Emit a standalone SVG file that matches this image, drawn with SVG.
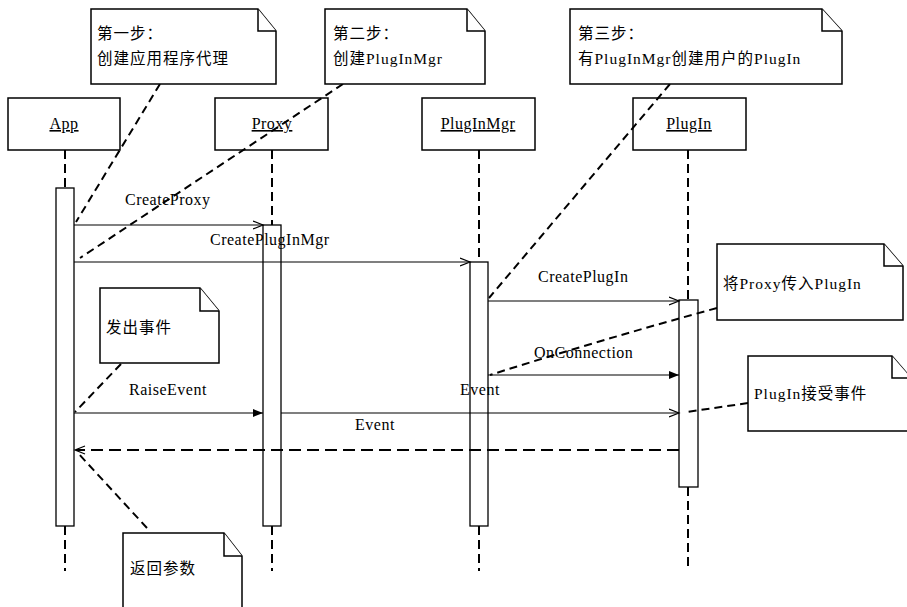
<svg xmlns="http://www.w3.org/2000/svg" width="907" height="607" viewBox="0 0 907 607">
<style>
.box{fill:#fff;stroke:#000;stroke-width:1.5}
.act{fill:#fff;stroke:#000;stroke-width:1.3}
.life{stroke:#000;stroke-width:2;stroke-dasharray:9,5;fill:none}
.link{stroke:#000;stroke-width:2;stroke-dasharray:8,5;fill:none}
.msg{stroke:#000;stroke-width:1.2;fill:none}
.ret{stroke:#000;stroke-width:2.2;stroke-dasharray:12,6;fill:none}
.t{font-family:"Liberation Serif","Noto Sans CJK SC",serif;font-size:16px;letter-spacing:0.5px;fill:#000}
.c{font-family:"Liberation Serif","Noto Sans CJK SC",serif;font-size:15.5px;letter-spacing:1px;fill:#000}
.u{text-decoration:underline}
</style>
<defs>
<marker id="open" markerWidth="12" markerHeight="10" refX="10" refY="5" orient="auto" markerUnits="userSpaceOnUse"><path d="M0,1 L10,5 L0,9" fill="none" stroke="#000" stroke-width="1.2"/></marker>
<marker id="fill" markerWidth="12" markerHeight="10" refX="10" refY="5" orient="auto" markerUnits="userSpaceOnUse"><path d="M0,1 L10,5 L0,9 Z" fill="#000"/></marker>
</defs>
<rect width="907" height="607" fill="#fff"/>

<g id="lifelines">
<line class="life" x1="65" y1="150" x2="65" y2="188"/>
<line class="life" x1="65" y1="526" x2="65" y2="571"/>
<line class="life" x1="272" y1="150" x2="272" y2="225"/>
<line class="life" x1="272" y1="526" x2="272" y2="571"/>
<line class="life" x1="479" y1="150" x2="479" y2="262"/>
<line class="life" x1="479" y1="526" x2="479" y2="571"/>
<line class="life" x1="688" y1="150" x2="688" y2="300"/>
<line class="life" x1="688" y1="487" x2="688" y2="571"/>
</g>

<g id="App"><rect class="box" x="8" y="98" width="112" height="52"/><text class="t u" x="64" y="129" text-anchor="middle">App</text></g>
<g id="Proxy"><rect class="box" x="215" y="98" width="113" height="52"/><text class="t u" x="272" y="129" text-anchor="middle">Proxy</text></g>
<g id="PlugInMgr"><rect class="box" x="422" y="98" width="113" height="52"/><text class="t u" x="478" y="129" text-anchor="middle">PlugInMgr</text></g>
<g id="PlugIn"><rect class="box" x="633" y="98" width="113" height="52"/><text class="t u" x="689" y="129" text-anchor="middle">PlugIn</text></g>

<g id="activations">
<rect class="act" x="56" y="188" width="18" height="338"/>
<rect class="act" x="263" y="225" width="18" height="301"/>
<rect class="act" x="470" y="262" width="18" height="264"/>
<rect class="act" x="679" y="300" width="19" height="187"/>
</g>

<g id="connectors">
<line class="msg" x1="74" y1="225" x2="263" y2="225" marker-end="url(#open)"/>
<line class="msg" x1="74" y1="262" x2="470" y2="262" marker-end="url(#open)"/>
<line class="msg" x1="488" y1="301" x2="679" y2="301" marker-end="url(#open)"/>
<line class="msg" x1="488" y1="375" x2="679" y2="375" marker-end="url(#fill)"/>
<line class="msg" x1="74" y1="413" x2="263" y2="413" marker-end="url(#fill)"/>
<line class="msg" x1="281" y1="413" x2="679" y2="413" marker-end="url(#open)"/>
<line class="ret" x1="679" y1="450" x2="76" y2="450"/>
<path d="M85,446 L75,450 L85,454" fill="none" stroke="#000" stroke-width="1.2"/>
<line class="link" x1="160" y1="84" x2="76" y2="222"/>
<line class="link" x1="343" y1="84" x2="80" y2="258"/>
<line class="link" x1="670" y1="84" x2="489" y2="298"/>
<path class="link" d="M717,308 Q600,340 490,375"/>
<line class="link" x1="748" y1="403" x2="687" y2="412"/>
<line class="link" x1="121" y1="364" x2="75" y2="412"/>
<line class="link" x1="147" y1="528" x2="77" y2="452"/>
</g>

<g id="labels">
<text class="t" x="125" y="205">CreateProxy</text>
<text class="t" x="210" y="245">CreatePlugInMgr</text>
<text class="t" x="538" y="282">CreatePlugIn</text>
<text class="t" x="534" y="358">OnConnection</text>
<text class="t" x="129" y="395">RaiseEvent</text>
<text class="t" x="460" y="395">Event</text>
<text class="t" x="355" y="430">Event</text>
</g>

<g id="note1"><path class="box" d="M91,9 H258 L276,31 V84 H91 Z"/><path class="box" d="M258,9 V31 H276" fill="none"/><text class="c" x="97" y="39">第一步：</text><text class="c" x="97" y="64">创建应用程序代理</text></g>
<g id="note2"><path class="box" d="M325,9 H467 L485,31 V84 H325 Z"/><path class="box" d="M467,9 V31 H485" fill="none"/><text class="c" x="333" y="39">第二步：</text><text class="c" x="333" y="64">创建PlugInMgr</text></g>
<g id="note3"><path class="box" d="M570,9 H822 L842,31 V84 H570 Z"/><path class="box" d="M822,9 V31 H842" fill="none"/><text class="c" x="578" y="39">第三步：</text><text class="c" x="578" y="64">有PlugInMgr创建用户的PlugIn</text></g>
<g id="note4"><path class="box" d="M100,288 H200 L219,311 V363 H100 Z"/><path class="box" d="M200,288 V311 H219" fill="none"/><text class="c" x="106" y="333">发出事件</text></g>
<g id="note5"><path class="box" d="M717,244 H884 L903,266 V320 H717 Z"/><path class="box" d="M884,244 V266 H903" fill="none"/><text class="c" x="723" y="289">将Proxy传入PlugIn</text></g>
<g id="note6"><path class="box" d="M748,356 H892 L911,378 V431 H748 Z"/><path class="box" d="M892,356 V378 H911" fill="none"/><text class="c" x="754" y="399">PlugIn接受事件</text></g>
<g id="note7"><path class="box" d="M123,533 H224 L242,556 V612 H123 Z"/><path class="box" d="M224,533 V556 H242" fill="none"/><text class="c" x="130" y="574">返回参数</text></g>
</svg>
